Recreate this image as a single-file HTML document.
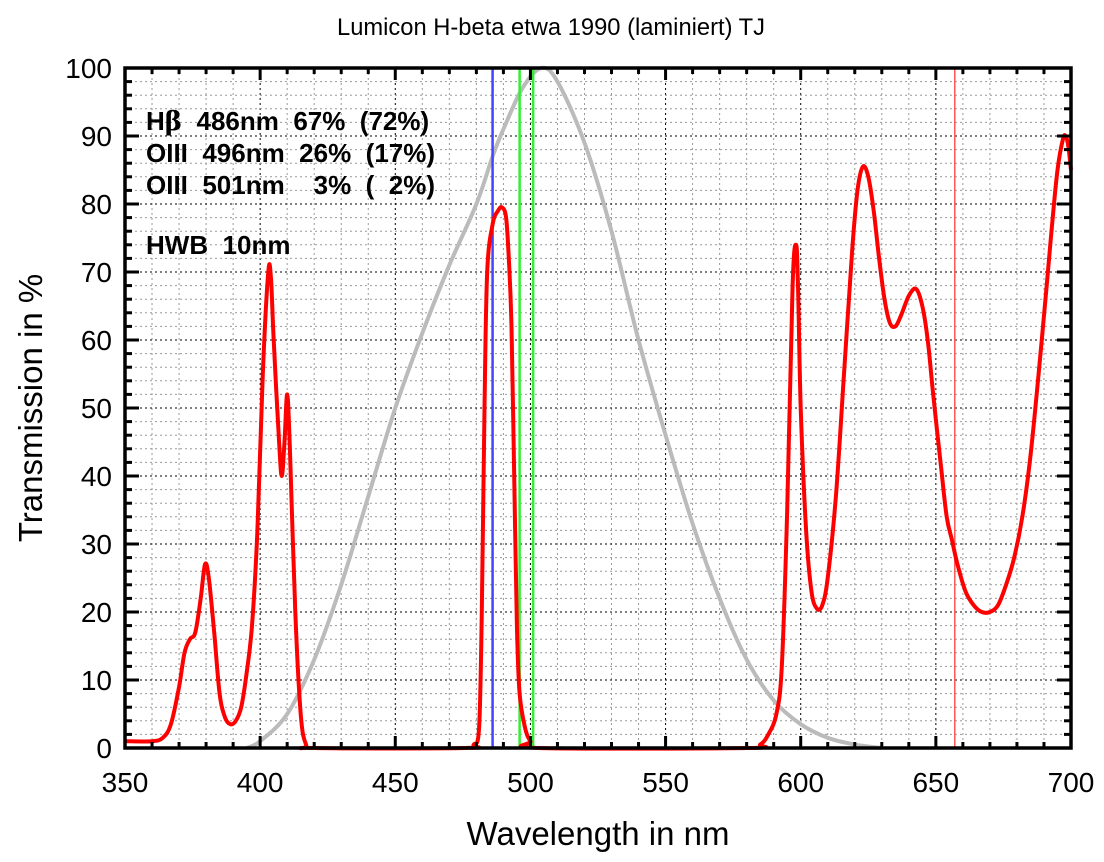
<!DOCTYPE html>
<html><head><meta charset="utf-8"><style>
body{margin:0;background:#fff;width:1104px;height:862px;overflow:hidden}
svg{display:block}
text{font-family:"Liberation Sans",sans-serif}
</style></head><body>
<svg id="s" width="1104" height="862" xmlns="http://www.w3.org/2000/svg">
<g id="grid"></g>
<g id="curves"></g>
<rect x="125" y="68" width="946" height="680" fill="none" stroke="#000" stroke-width="3.5"/>
<g id="ticks"></g>
<text x="551" y="35" font-size="24" text-anchor="middle" textLength="428" lengthAdjust="spacingAndGlyphs">Lumicon H-beta etwa 1990 (laminiert) TJ</text>
<g font-size="26" font-weight="bold" xml:space="preserve">
<text x="146" y="130" xml:space="preserve">H<tspan font-family="DejaVu Serif,serif">β</tspan>  486nm  67%  (72%)</text>
<text x="146" y="162" xml:space="preserve">OIII  496nm  26%  (17%)</text>
<text x="146" y="194" xml:space="preserve">OIII  501nm    3%  (  2%)</text>
<text x="146" y="254" xml:space="preserve">HWB  10nm</text>
</g>
<text x="598" y="845" font-size="33" text-anchor="middle">Wavelength in nm</text>
<text transform="translate(42,408) rotate(-90)" font-size="33" text-anchor="middle">Transmission in %</text>
</svg>
<script>
const NS="http://www.w3.org/2000/svg";
const X=w=>125+(w-350)*946/350, Y=v=>748-6.8*v;
function el(p,t,a){const e=document.createElementNS(NS,t);for(const k in a){if(k!='text')e.setAttribute(k,a[k]);}if('text' in a){e.textContent=String(a.text);}p.appendChild(e);return e;}
const g=document.getElementById('grid'),tk=document.getElementById('ticks'),s=document.getElementById('s');
for(let w=360;w<700;w+=10){const maj=w%50==0;el(g,'line',{x1:X(w),x2:X(w),y1:68,y2:748,stroke:maj?'#000':'#999','stroke-width':1,'stroke-dasharray':'2,3'});
el(tk,'line',{x1:X(w),x2:X(w),y1:68,y2:maj?80:74,stroke:'#000','stroke-width':3});el(tk,'line',{x1:X(w),x2:X(w),y1:748,y2:maj?736:742,stroke:'#000','stroke-width':3});}
for(let v=2;v<100;v+=2){const maj=v%10==0;el(g,'line',{x1:125,x2:1071,y1:Y(v),y2:Y(v),stroke:maj?'#000':'#999','stroke-width':1,'stroke-dasharray':'2,3'});
el(tk,'line',{x1:125,x2:maj?139:132,y1:Y(v),y2:Y(v),stroke:'#000','stroke-width':3});el(tk,'line',{x1:1071,x2:maj?1057:1064,y1:Y(v),y2:Y(v),stroke:'#000','stroke-width':3});}
for(let v=0;v<=100;v+=10)el(s,'text',{x:112,y:Y(v)+10,'font-size':28,'text-anchor':'end',text:v});
for(let w=350;w<=700;w+=50)el(s,'text',{x:X(w),y:792,'font-size':28,'text-anchor':'middle',text:w});
function path(pts){let d='';const P=pts.map(p=>[X(p[0]),Y(p[1])]);
for(let i=0;i<P.length-1;i++){const p0=P[Math.max(0,i-1)],p1=P[i],p2=P[i+1],p3=P[Math.min(P.length-1,i+2)];
if(i==0)d+='M'+p1[0].toFixed(1)+','+p1[1].toFixed(1);
const c1=[p1[0]+(p2[0]-p0[0])/6,p1[1]+(p2[1]-p0[1])/6],c2=[p2[0]-(p3[0]-p1[0])/6,p2[1]-(p3[1]-p1[1])/6];
d+=`C${c1[0].toFixed(1)},${c1[1].toFixed(1)} ${c2[0].toFixed(1)},${c2[1].toFixed(1)} ${p2[0].toFixed(1)},${p2[1].toFixed(1)}`;}return d;}
const c=document.getElementById('curves');
const gray=[[395,0],[400,1],[410,5],[420,13],[430,24],[440,37],[450,50],[460,61],[470,71],[480,80],[486,87],[490,91],[497,97],[504,100],[510,98],[520,89],[530,76],[540,60],[550,46],[560,33],[570,22],[580,13],[590,7],[600,3.5],[610,1.5],[620,0.5],[630,0]];
el(c,'path',{d:path(gray),fill:'none',stroke:'#bbb','stroke-width':4});
el(c,'line',{x1:X(486),x2:X(486),y1:68,y2:748,stroke:'#4444ff','stroke-width':2.5});
el(c,'line',{x1:X(496),x2:X(496),y1:68,y2:748,stroke:'#33ee33','stroke-width':2.5});
el(c,'line',{x1:X(501),x2:X(501),y1:68,y2:748,stroke:'#33ee33','stroke-width':2.5});
el(c,'line',{x1:X(657),x2:X(657),y1:68,y2:748,stroke:'#ff5555','stroke-width':1.5});
const red=[[350,1],[360,1],[364,1.5],[367,3.5],[370,9],[372,14],[374,16],[376,17],[378,22],[379.6,27],[381,25],[383,17],[385,8],[387,4.5],[389,3.5],[391,4],[393,6],[395,11],[397,18],[399,32],[401,55],[403,70],[404,69],[405,60],[407,45],[408,40],[409,45],[410,52],[411,44],[413,20],[415,5],[417,0.5],[420,0],[476,0],[479,0.5],[481,3],[482,20],[483,50],[484,70],[486,77],[488,79],[489.5,79.5],[491,78],[492,72],[493,62],[494,40],[495,18],[496,8],[498,3],[500,1],[503,0],[580,0],[585,0.5],[588,2],[591,5],[593,12],[595,35],[597,68],[598.3,74],[599,68],[600,50],[602,32],[604,23],[606,20.5],[608,21],[610,25],[613,37],[616,55],[619,73],[621,82],[623,85.5],[625,84],[627,79],[629,72],[631,66],[633,62.5],[635,62],[637,63.5],[640,66.5],[642.7,67.5],[645,65],[647,60],[649,52],[652,41],[654,34],[656,30.5],[658,27],[661,23],[664,21],[667,20],[670,20],[673,21],[676,24],[679,28],[682,34],[685,43],[688,55],[691,68],[693,77],[695,85],[697,89.5],[698,90],[699,88.5],[700,85]];
el(c,'path',{d:path(red),fill:'none',stroke:'#ff0000','stroke-width':4});
</script>
</body></html>
